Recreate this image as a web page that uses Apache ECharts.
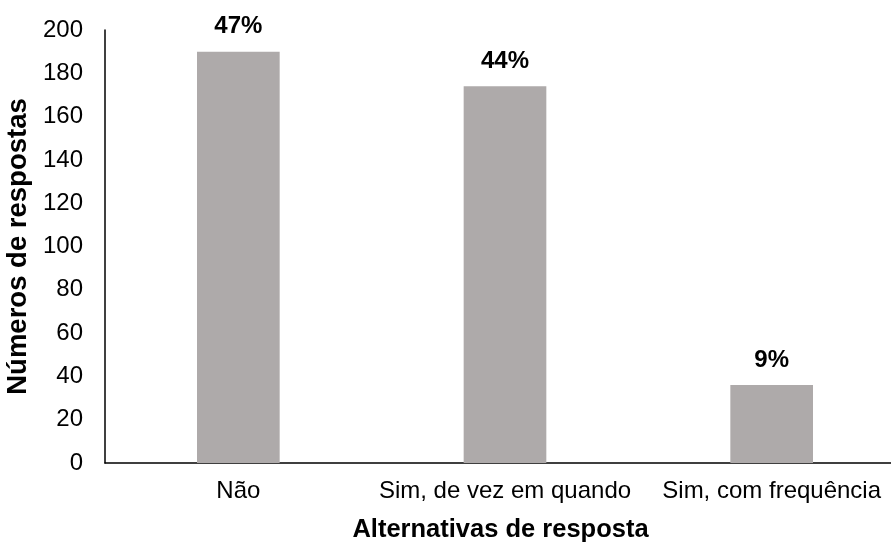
<!DOCTYPE html>
<html>
<head>
<meta charset="utf-8">
<script src="https://cdn.jsdelivr.net/npm/echarts@6/dist/echarts.min.js"></script>
<style>
  html, body { margin: 0; padding: 0; background: #fff; }
  #chart { width: 891px; height: 542px; }
</style>
</head>
<body>
<div id="chart"></div>
<script>
// Respostas por alternativa
const categories = ['Não', 'Sim, de vez em quando', 'Sim, com frequência'];
const counts = [190, 174, 36];
const percentLabels = ['47%', '44%', '9%'];
const yTicks = { min: 0, max: 200, interval: 20 };

const chart = echarts.init(document.getElementById('chart'), null, { renderer: 'canvas' });
const font = 'Liberation Sans, Arial, sans-serif';

chart.setOption({
  animation: false,
  grid: { left: 105, top: 30, width: 800, bottom: 79, containLabel: false, outerBoundsMode: 'none' },
  xAxis: {
    type: 'category',
    data: categories,
    name: 'Alternativas de resposta',
    nameLocation: 'middle',
    nameGap: 54,
    nameTextStyle: { fontFamily: font, fontSize: 25.5, fontWeight: 'bold', color: '#000', padding: [0, 9, 0, 0] },
    axisLine: { lineStyle: { color: '#000', width: 1.5 } },
    axisTick: { show: false },
    axisLabel: { fontFamily: font, fontSize: 24, color: '#000', margin: 16, interval: 0 }
  },
  yAxis: {
    type: 'value',
    min: yTicks.min,
    max: yTicks.max,
    interval: yTicks.interval,
    name: 'Números de respostas',
    nameLocation: 'middle',
    nameGap: 68,
    nameTextStyle: { fontFamily: font, fontSize: 27.5, fontWeight: 'bold', color: '#000' },
    axisLine: { show: true, lineStyle: { color: '#000', width: 1.5 } },
    axisTick: { show: false },
    splitLine: { show: false },
    axisLabel: { fontFamily: font, fontSize: 24, color: '#000', margin: 22 }
  },
  series: [{
    type: 'bar',
    data: counts,
    barWidth: '31%',
    itemStyle: { color: '#AEAAAA' },
    label: {
      show: true,
      position: 'top',
      distance: 13,
      fontFamily: font,
      fontSize: 24,
      fontWeight: 'bold',
      color: '#000',
      formatter: p => percentLabels[p.dataIndex]
    }
  }]
});
</script>
</body>
</html>
